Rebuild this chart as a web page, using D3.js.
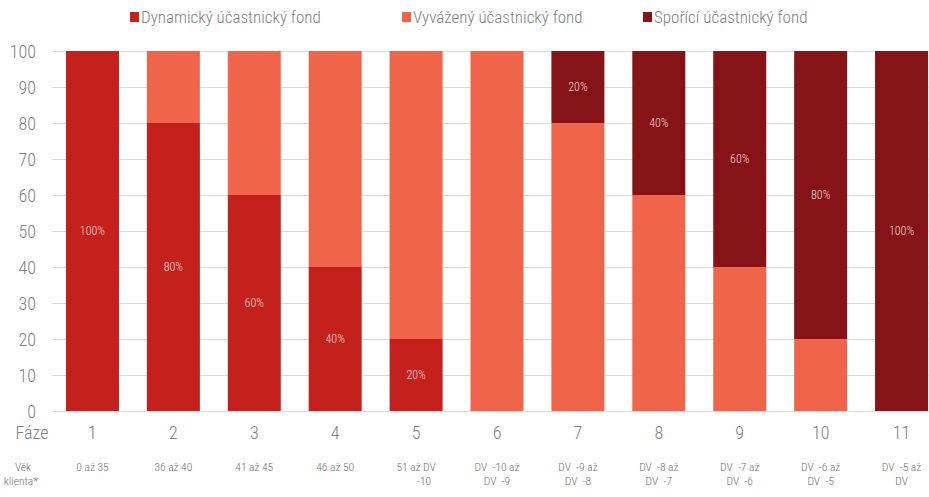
<!DOCTYPE html>
<html><head><meta charset="utf-8">
<script src="https://cdn.jsdelivr.net/npm/d3@7"></script>
<style>body{margin:0;background:#fff}svg{display:block}text{font-family:"Roboto Condensed","Liberation Sans Narrow",Roboto,sans-serif;font-weight:300;white-space:pre}</style>
</head><body><svg id="c" width="929" height="497"></svg>
<script>
const phases = ["1","2","3","4","5","6","7","8","9","10","11"];
const ages = [["0 až 35"],["36 až 40"],["41 až 45"],["46 až 50"],["51 až DV","-10"],["DV  -10 až","DV  -9"],["DV  -9 až","DV  -8"],["DV  -8 až","DV  -7"],["DV  -7 až","DV  -6"],["DV  -6 až","DV  -5"],["DV  -5 až","DV"]];
const seriesNames = ["Dynamický účastnický fond","Vyvážený účastnický fond","Spořící účastnický fond"];
const dynamic  = [100,80,60,40,20,0,0,0,0,0,0];
const balanced = [0,20,40,60,80,100,80,60,40,20,0];
const saving   = [0,0,0,0,0,0,20,40,60,80,100];
const yTicks = [0,10,20,30,40,50,60,70,80,90,100];
const colors = ["#c4211c","#f0654a","#861315"];

const svg = d3.select("#c");
const x = d3.scaleBand().domain(phases).range([52,942]).paddingInner(0.345).paddingOuter(0.1725);
const y = d3.scaleLinear().domain([0,100]).range([411,51]);

// grid
svg.append("g").selectAll("line").data(yTicks).join("line")
  .attr("x1",52).attr("x2",929).attr("y1",d=>y(d)).attr("y2",d=>y(d))
  .attr("stroke","#d9d9d9").attr("stroke-width",1).attr("shape-rendering","crispEdges");

// y axis labels
const yAxis = d3.axisLeft(y).tickValues(yTicks).tickSize(0).tickPadding(0);
const ya = svg.append("g").attr("transform","translate(36,0)").call(yAxis);
ya.select(".domain").remove();
ya.selectAll("text").attr("font-size",18).attr("fill","#808080").attr("dy","0.35em")
  .style("font-family",null);

// stacks
const data = phases.map((p,i)=>({p, d:dynamic[i], b:balanced[i], s:saving[i]}));
const stack = d3.stack().keys(["d","b","s"])(data);
const g = svg.append("g");
stack.forEach((layer,li)=>{
  g.append("g").selectAll("rect").data(layer).join("rect")
    .attr("x",d=>x(d.data.p)).attr("width",x.bandwidth())
    .attr("y",d=>y(d[1])).attr("height",d=>y(d[0])-y(d[1]))
    .attr("fill",colors[li]);
});
// labels: dynamic and saving only
[0,2].forEach(li=>{
  g.append("g").selectAll("text").data(stack[li].filter(d=>d[1]-d[0]>0)).join("text")
    .attr("x",d=>x(d.data.p)+x.bandwidth()/2)
    .attr("y",d=>(y(d[0])+y(d[1]))/2)
    .attr("dy","0.35em").attr("text-anchor","middle")
    .attr("font-size",12).attr("fill","#f3dada")
    .text(d=>(d[1]-d[0])+"%");
});

// x axis phases
const xa = svg.append("g").attr("transform","translate(0,433)")
  .call(d3.axisBottom(x).tickSize(0).tickPadding(0));
xa.select(".domain").remove();
xa.selectAll("text").attr("font-size",18).attr("fill","#808080").attr("dy","0.35em");
svg.append("text").attr("x",32).attr("y",433).attr("dy","0.35em").attr("text-anchor","middle")
  .attr("font-size",18).attr("fill","#808080").text("Fáze");

// ages
const ag = svg.append("g");
phases.forEach((p,i)=>{
  const t = ag.append("text").attr("x",x(p)+x.bandwidth()/2).attr("y",467)
    .attr("text-anchor","middle").attr("font-size",11.5).attr("fill","#707070").attr("dy","0.35em");
  ages[i].forEach((line,j)=>{
    t.append("tspan").attr("x",x(p)+x.bandwidth()/2 + (i===4 && j===1 ? 8 : 0)).attr("y",467+j*18).text(line);
  });
});
const vk = ag.append("text").attr("text-anchor","middle").attr("font-size",11.5).attr("fill","#707070").attr("dy","0.35em");
vk.append("tspan").attr("x",23).attr("y",467).text("Věk");
vk.append("tspan").attr("x",21).attr("y",485).text("klienta*");

// legend
const legX = [130,402,643];
const leg = svg.append("g");
seriesNames.forEach((n,i)=>{
  leg.append("rect").attr("x",legX[i]).attr("y",12).attr("width",9).attr("height",10).attr("fill",colors[i]);
  leg.append("text").attr("x",legX[i]+11).attr("y",17).attr("dy","0.35em")
    .attr("font-size",17).attr("fill","#808080").text(n);
});
</script></body></html>
